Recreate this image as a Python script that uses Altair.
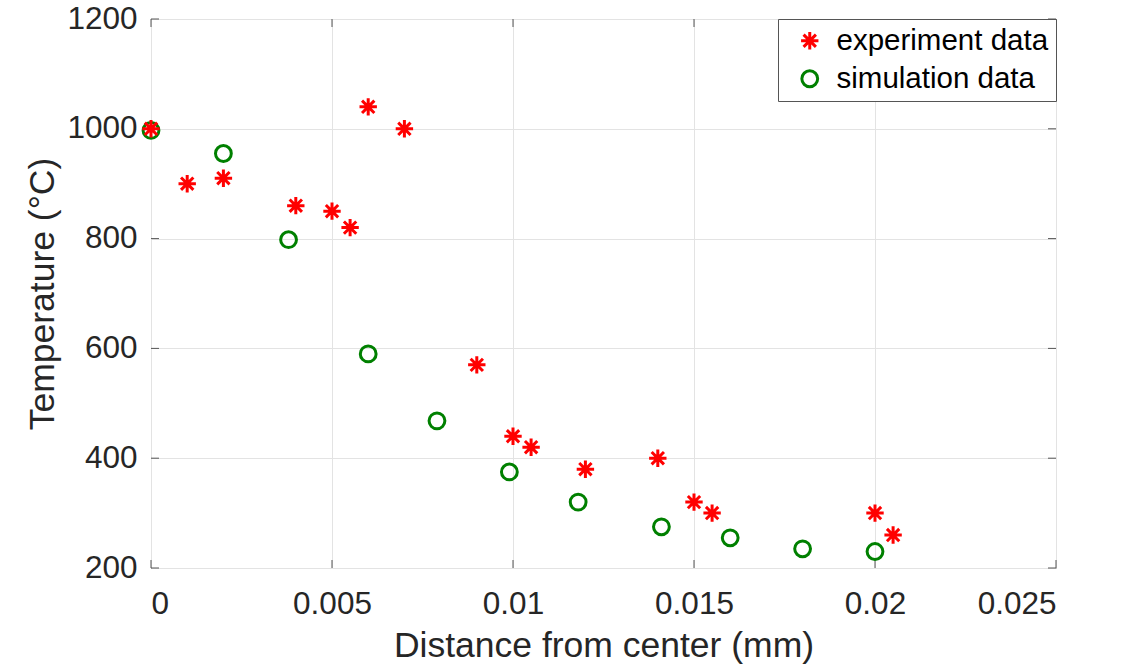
import altair as alt
import pandas as pd

# Measured temperatures vs. distance from the heating centre
exp_x = [0, 0.001, 0.002, 0.004, 0.005, 0.0055, 0.006, 0.007, 0.009,
         0.010, 0.0105, 0.012, 0.014, 0.015, 0.0155, 0.020, 0.0205]
exp_t = [1000, 900, 910, 860, 850, 820, 1040, 1000, 570,
         440, 420, 380, 400, 320, 300, 300, 260]

# Simulated temperatures
sim_x = [0, 0.002, 0.0038, 0.006, 0.0079, 0.0099, 0.0118, 0.0141, 0.016, 0.018, 0.020]
sim_t = [997, 955, 798, 590, 468, 375, 320, 275, 255, 235, 230]

series_names = ["experiment data", "simulation data"]
series_colors = ["#ff0000", "#008000"]

x_ticks = [0, 0.005, 0.01, 0.015, 0.02, 0.025]
y_ticks = [200, 400, 600, 800, 1000, 1200]

W, H = 905, 549
AXIS_COL = "#555555"
TEXT_COL = "#262626"
FONT = "Liberation Sans"
TICK_LEN = 8

# asterisk marker: plus + cross
ASTERISK = "M0,-1.1L0,1.1M-1.1,0L1.1,0M-0.78,-0.78L0.78,0.78M-0.78,0.78L0.78,-0.78"

df = pd.concat([
    pd.DataFrame({"d": sim_x, "t": sim_t, "series": series_names[1]}),
    pd.DataFrame({"d": exp_x, "t": exp_t, "series": series_names[0]}),
], ignore_index=True)

x_scale = alt.Scale(domain=[0, 0.025], nice=False, zero=False)
y_scale = alt.Scale(domain=[200, 1200], nice=False, zero=False)

x_axis = alt.Axis(values=x_ticks, format=".3~f", title="Distance from center (mm)",
                  labelPadding=20, titlePadding=9)
y_axis = alt.Axis(values=y_ticks, format="d", title="Temperature (°C)",
                  labelPadding=14, titlePadding=6)


def x_enc():
    return alt.X("d:Q", scale=x_scale, axis=x_axis)


def y_enc():
    return alt.Y("t:Q", scale=y_scale, axis=y_axis)


points = alt.Chart(df).mark_point(filled=False, size=250, strokeWidth=3, opacity=1).encode(
    x=x_enc(),
    y=y_enc(),
    color=alt.Color("series:N", scale=alt.Scale(domain=series_names, range=series_colors),
                    legend=alt.Legend(title=None)),
    shape=alt.Shape("series:N", scale=alt.Scale(domain=series_names, range=[ASTERISK, "circle"]),
                    legend=alt.Legend(title=None)),
)

xt = pd.DataFrame({"d": x_ticks})
yt = pd.DataFrame({"t": y_ticks})

# inward-pointing tick marks on all four sides of the box
tick_bottom = alt.Chart(xt).mark_rule(color=AXIS_COL, strokeWidth=1).encode(
    x=x_enc(), y=alt.value(H), y2=alt.value(H - TICK_LEN))
tick_top = alt.Chart(xt).mark_rule(color=AXIS_COL, strokeWidth=1).encode(
    x=x_enc(), y=alt.value(0), y2=alt.value(TICK_LEN))
tick_left = alt.Chart(yt).mark_rule(color=AXIS_COL, strokeWidth=1).encode(
    y=y_enc(), x=alt.value(0), x2=alt.value(TICK_LEN))
tick_right = alt.Chart(yt).mark_rule(color=AXIS_COL, strokeWidth=1).encode(
    y=y_enc(), x=alt.value(W - TICK_LEN), x2=alt.value(W))

chart = alt.layer(tick_bottom, tick_top, tick_left, tick_right, points).properties(
    width=W,
    height=H,
    padding={"left": 151, "top": 19, "right": 1127 - 151 - W, "bottom": 667 - 19 - H},
    autosize=alt.AutoSizeParams(type="none"),
    background="white",
).configure_view(
    stroke=AXIS_COL, strokeWidth=1
).configure_axis(
    grid=True, gridColor="#e3e3e3", gridWidth=1,
    domain=False, ticks=False,
    labelFont=FONT, labelFontSize=31.5, labelColor=TEXT_COL,
    titleFont=FONT, titleFontSize=35.5, titleFontWeight="normal", titleColor=TEXT_COL,
).configure_legend(
    orient="top-right", offset=0,
    strokeColor=AXIS_COL, fillColor="white", padding=7,
    labelFont=FONT, labelFontSize=29.5, labelColor="#000000", labelLimit=400,
    symbolOffset=10, labelOffset=12, rowPadding=7,
    symbolSize=250, symbolStrokeWidth=3,
)

chart.save("out.html", embed_options={"renderer": "svg", "actions": False})
